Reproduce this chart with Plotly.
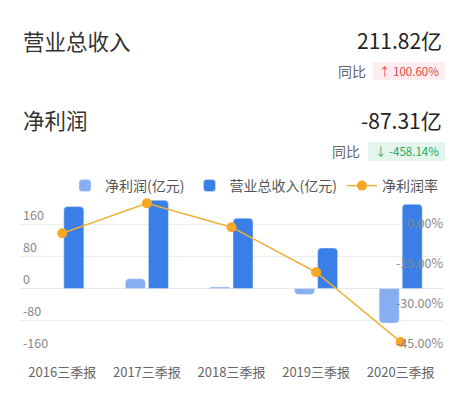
import plotly.graph_objects as go

categories = ['2016三季报', '2017三季报', '2018三季报', '2019三季报', '2020三季报']
net_profit = [-0.5, 24.2, 3.6, -15.2, -87.31]
revenue = [205.8, 221.7, 176.7, 101.7, 211.82]
net_margin = [-0.2, 11.1, 2.1, -14.9, -41.2]

left_ticks = [-160, -80, 0, 80, 160, 240]
left_text = ['-160', '-80', '0', '80', '160', '']
right_ticks = [-45, -30, -15, 0, 15]
right_text = ['-45.00%', '-30.00%', '-15.00%', '0.00%', '']

W, H = 466, 397
L, R, T, B = 20, 23, 193, 45
PW, PH = W - L - R, H - T - B

def px(x):
    return (x - L) / PW

def py(y):
    return (H - B - y) / PH

FONT = 'Noto Sans CJK SC, Noto Sans, sans-serif'

fig = go.Figure()
fig.add_trace(go.Bar(name='净利润(亿元)', x=categories, y=net_profit,
                     marker=dict(color='#86AEF0', cornerradius=4), yaxis='y'))
fig.add_trace(go.Bar(name='营业总收入(亿元)', x=categories, y=revenue,
                     marker=dict(color='#3A7EE8', cornerradius=4), yaxis='y'))
fig.add_trace(go.Scatter(name='净利润率', x=categories, y=net_margin, yaxis='y2',
                         mode='lines+markers',
                         line=dict(color='#EDB23A', width=1.5),
                         marker=dict(color='#F8A825', size=10)))

fig.update_layout(
    width=W, height=H,
    margin=dict(l=L, r=R, t=T, b=B, pad=0, autoexpand=False),
    paper_bgcolor='white', plot_bgcolor='white',
    font=dict(family=FONT, color='#666'),
    barmode='group', bargap=0.456, bargroupgap=0.13,
    showlegend=True,
    legend=dict(orientation='h', xanchor='right', x=1.0, yanchor='middle', y=py(186),
                font=dict(size=14, color='#555'), itemwidth=30,
                bgcolor='rgba(0,0,0,0)', traceorder='normal'),
    xaxis=dict(showgrid=False, zeroline=False, showline=False, ticks='',
               type='category', categoryorder='array', categoryarray=categories,
               tickmode='array', tickvals=categories, ticktext=categories,
               range=[-0.5, len(categories) - 0.5], ticklabeloverflow='allow',
               ticklabelstandoff=11,
               tickfont=dict(size=13, color='#666'), tickangle=0, automargin=False),
    yaxis=dict(range=[-160, 240], tickvals=left_ticks, ticktext=left_text,
               ticklabelposition='inside top', showgrid=True, gridcolor='#EEEEEE',
               gridwidth=1, zeroline=True, zerolinecolor='#E8E8E8', zerolinewidth=1,
               showline=False, ticks='', tickfont=dict(size=12.5, color='#888'),
               layer='below traces', automargin=False),
    yaxis2=dict(range=[-45, 15], tickvals=right_ticks, ticktext=right_text,
                overlaying='y', side='left', anchor='free', position=1.0,
                ticklabelposition='outside top',
                showgrid=False, zeroline=False, showline=False, ticks='',
                tickfont=dict(size=12.5, color='#888'), layer='above traces',
                automargin=False),
)

annotations = [
    dict(text='营业总收入', x=px(21), y=py(40), xanchor='left', yanchor='middle',
         font=dict(size=21.5, color='#333')),
    dict(text='211.82亿', x=px(444), y=py(40), xanchor='right', yanchor='middle',
         font=dict(size=21, color='#222')),
    dict(text='同比', x=px(368), y=py(70.5), xanchor='right', yanchor='middle',
         font=dict(size=14, color='#666')),
    dict(text='↑ 100.60%', x=px(409), y=py(70.5), xanchor='center', yanchor='middle',
         font=dict(size=11.5, color='#E5484D')),
    dict(text='净利润', x=px(21), y=py(119), xanchor='left', yanchor='middle',
         font=dict(size=21.5, color='#333')),
    dict(text='-87.31亿', x=px(444), y=py(120), xanchor='right', yanchor='middle',
         font=dict(size=21, color='#222')),
    dict(text='同比', x=px(362), y=py(151), xanchor='right', yanchor='middle',
         font=dict(size=14, color='#666')),
    dict(text='↓ -458.14%', x=px(406.5), y=py(151), xanchor='center', yanchor='middle',
         font=dict(size=11.5, color='#1FA863')),
]
for a in annotations:
    a.update(xref='paper', yref='paper', showarrow=False)
fig.update_layout(annotations=annotations)

fig.update_layout(shapes=[
    dict(type='rect', xref='paper', yref='paper', x0=px(373), x1=px(445), y0=py(62), y1=py(80),
         fillcolor='#FDEDEE', line=dict(width=0), layer='below'),
    dict(type='rect', xref='paper', yref='paper', x0=px(368), x1=px(445), y0=py(142), y1=py(161),
         fillcolor='#E4F6EC', line=dict(width=0), layer='below'),
])

fig.write_html('out.html')
